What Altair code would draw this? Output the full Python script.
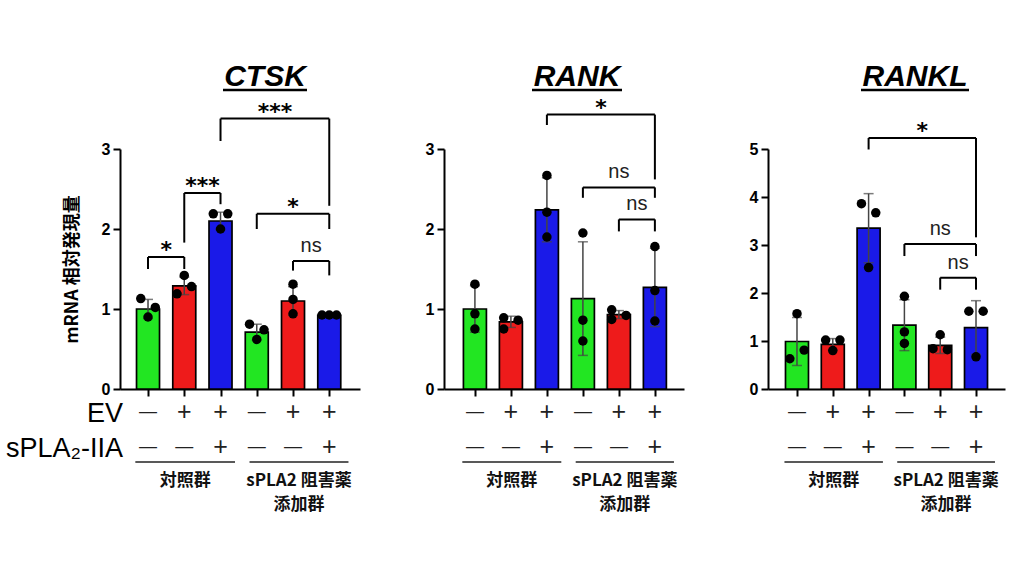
import altair as alt
import pandas as pd

# ---------------- data ----------------
conds = [1, 2, 3, 4, 5, 6]
bar_colors = ["#22e622", "#ee1b1b", "#1a1ae8", "#22e622", "#ee1b1b", "#1a1ae8"]
ev_signs = ["—", "+", "+", "—", "+", "+"]
spla_signs = ["—", "—", "+", "—", "—", "+"]
group_start = [0.65, 3.80]
group_end = [3.40, 6.53]
group_line1 = ["対照群", "sPLA2 阻害薬"]
group_line2 = ["", "添加群"]
row_labels = ["EV", "sPLA₂-IIA"]

ctsk_mean = [1.00, 1.29, 2.10, 0.71, 1.10, 0.92]
ctsk_sd = [0.12, 0.11, 0.11, 0.10, 0.18, 0.01]
ctsk_points = [[1.13, 1.02, 0.90], [1.42, 1.28, 1.19], [2.19, 2.19, 2.00],
               [0.81, 0.74, 0.62], [1.31, 1.12, 0.94], [0.925, 0.925, 0.925]]
ctsk_jitter = [[-1, 1, 0], [0, 1, -1], [-1, 1, 0], [-1, 1, 0], [0, 0, 0], [-1, 0, 1]]
ctsk_brackets = [  # x1, x2, top, left end, right end, label
    (1, 2, 1.65, 1.50, 1.50, "*"),
    (2, 3, 2.45, 1.83, 2.31, "***"),
    (4, 6, 2.19, 2.00, 2.00, "*"),
    (5, 6, 1.60, 1.48, 1.42, "ns"),
    (3, 6, 3.38, 3.10, 2.29, "***"),
]

rank_mean = [1.00, 0.84, 2.24, 1.13, 0.93, 1.27]
rank_sd = [0.29, 0.07, 0.40, 0.71, 0.05, 0.49]
rank_points = [[1.31, 0.94, 0.75], [0.89, 0.86, 0.75], [2.67, 2.21, 1.90],
               [1.95, 0.86, 0.60], [0.99, 0.92, 0.87], [1.78, 1.23, 0.85]]
rank_jitter = [[0, 0, 0], [-1, 1, -1], [0, 0, 0], [0, 0, 0], [-1, 1, -1], [0, 0, 0]]
rank_brackets = [
    (3, 6, 3.43, 3.30, 2.62, "*"),
    (4, 6, 2.52, 2.39, 2.39, "ns"),
    (5, 6, 2.12, 1.97, 1.97, "ns"),
]

rankl_mean = [0.99, 0.93, 3.35, 1.33, 0.91, 1.28]
rankl_sd = [0.50, 0.12, 0.72, 0.53, 0.17, 0.56]
rankl_points = [[1.57, 0.81, 0.63], [1.02, 1.02, 0.80], [3.86, 3.67, 2.53],
                [1.93, 1.19, 0.95], [1.13, 0.84, 0.82], [1.62, 1.62, 0.67]]
rankl_jitter = [[0, 1, -1], [-1, 1, 0], [-1, 1, 0], [0, 0, 0], [0, -1, 1], [-1, 1, 0]]
rankl_brackets = [
    (3, 6, 5.23, 4.99, 3.16, "*"),
    (4, 6, 3.02, 2.77, 2.77, "ns"),
    (5, 6, 2.32, 2.07, 2.07, "ns"),
]

LAT = "Liberation Sans"
CJK = "Noto Sans CJK JP"


def panel(gene, means, sds, points, jitter, brackets, ymax, yvals, xdom,
          width, title_x, title_half, first):
    height = 240
    bars = pd.DataFrame({
        "cond": conds, "mean": means,
        "lo": [m - s for m, s in zip(means, sds)],
        "hi": [m + s for m, s in zip(means, sds)],
        "color": bar_colors, "ev": ev_signs, "spla": spla_signs,
    })
    pts = pd.DataFrame([
        {"x": c + 0.2 * j, "val": v}
        for c, vs, js in zip(conds, points, jitter) for v, j in zip(vs, js)
    ])
    br = pd.DataFrame([
        {"x1": b[0], "x2": b[1], "top": b[2], "lb": b[3], "rb": b[4],
         "label": b[5], "mid": (b[0] + b[1]) / 2}
        for b in brackets
    ])
    grp = pd.DataFrame({"s": group_start, "e": group_end,
                        "l1": group_line1, "l2": group_line2,
                        "m": [(a + b) / 2 for a, b in zip(group_start, group_end)]})
    one = pd.DataFrame({"gene": [gene]})

    xs = alt.Scale(domain=xdom, nice=False, zero=False)
    ys = alt.Scale(domain=[0, ymax], nice=False)
    xax = alt.Axis(values=conds, labels=False, title=None, tickSize=7, tickWidth=2,
                   tickColor="black", domainColor="black", domainWidth=2, grid=False)
    yax = alt.Axis(values=yvals, title="mRNA  相対発現量" if first else None,
                   titleFont=CJK, titleFontSize=18, titleFontWeight="bold",
                   titleColor="black", titlePadding=20,
                   labelFont=LAT, labelFontSize=16, labelFontWeight="bold",
                   labelColor="black", labelPadding=3,
                   tickSize=7, tickWidth=2, tickColor="black",
                   domainColor="black", domainWidth=2, grid=False)

    def X(f):
        return alt.X(f, scale=xs, axis=xax)

    def Y(f):
        return alt.Y(f, scale=ys, axis=yax)

    base_bars = alt.Chart(bars)
    bar_layer = base_bars.mark_bar(size=23, stroke="black", strokeWidth=1.7).encode(
        x=X("cond:Q"), y=Y("mean:Q"), color=alt.Color("color:N", scale=None))
    err = base_bars.mark_rule(color="#444444", strokeWidth=1.5).encode(
        x=X("cond:Q"), y=Y("lo:Q"), y2="hi:Q")
    cap_hi = base_bars.mark_tick(orient="horizontal", size=10, thickness=1.5,
                                 color="#444444").encode(x=X("cond:Q"), y=Y("hi:Q"))
    cap_lo = base_bars.mark_tick(orient="horizontal", size=10, thickness=1.5,
                                 color="#444444").encode(x=X("cond:Q"), y=Y("lo:Q"))
    dots = alt.Chart(pts).mark_circle(size=90, color="black", opacity=1).encode(
        x=X("x:Q"), y=Y("val:Q"))

    bbase = alt.Chart(br)
    b_h = bbase.mark_rule(color="black", strokeWidth=2).encode(
        x=X("x1:Q"), x2="x2:Q", y=Y("top:Q"))
    b_l = bbase.mark_rule(color="black", strokeWidth=2).encode(
        x=X("x1:Q"), y=Y("lb:Q"), y2="top:Q")
    b_r = bbase.mark_rule(color="black", strokeWidth=2).encode(
        x=X("x2:Q"), y=Y("rb:Q"), y2="top:Q")
    stars = bbase.transform_filter("datum.label != 'ns'").mark_text(
        font="DejaVu Sans", fontWeight="bold", fontSize=22, baseline="alphabetic",
        dy=0, color="black").encode(x=X("mid:Q"), y=Y("top:Q"), text="label:N")
    ns = bbase.transform_filter("datum.label == 'ns'").mark_text(
        font=LAT, fontSize=20, baseline="alphabetic", dy=-9,
        color="#222222").encode(x=X("mid:Q"), y=Y("top:Q"), text="label:N")

    def sign_size(f):
        return alt.condition(f"datum.{f} == '+'", alt.value(25), alt.value(18))

    ev_row = base_bars.mark_text(font=LAT, color="#222222", baseline="middle").encode(
        x=X("cond:Q"), y=alt.value(263), text="ev:N", size=sign_size("ev"))
    spla_row = base_bars.mark_text(font=LAT, color="#222222", baseline="middle").encode(
        x=X("cond:Q"), y=alt.value(298), text="spla:N", size=sign_size("spla"))

    gbase = alt.Chart(grp)
    g_line = gbase.mark_rule(color="#222222", strokeWidth=1.6).encode(
        x=X("s:Q"), x2="e:Q", y=alt.value(313))
    g_l1 = gbase.mark_text(font=CJK, fontWeight="bold", fontSize=17,
                           baseline="middle", color="#111111").encode(
        x=X("m:Q"), y=alt.value(332), text="l1:N")
    g_l2 = gbase.mark_text(font=CJK, fontWeight="bold", fontSize=17,
                           baseline="middle", color="#111111").encode(
        x=X("m:Q"), y=alt.value(356), text="l2:N")

    tbase = alt.Chart(one)
    title = tbase.mark_text(font=LAT, fontSize=30, fontWeight="bold",
                            fontStyle="italic", baseline="alphabetic",
                            color="black").encode(
        x=alt.value(title_x), y=alt.value(-63), text="gene:N")
    uline = tbase.mark_rule(color="black", strokeWidth=2.5).encode(
        x=alt.value(title_x - title_half), x2=alt.value(title_x + title_half),
        y=alt.value(-59))

    layers = [bar_layer, err, cap_hi, cap_lo, dots, b_h, b_l, b_r, stars, ns,
              ev_row, spla_row, g_line, g_l1, g_l2, title, uline]
    if first:
        rl = pd.DataFrame({"t": row_labels, "r": [0, 1]})
        rbase = alt.Chart(rl)
        lab_ev = rbase.transform_filter("datum.r == 0").mark_text(
            font=LAT, fontSize=27, align="right", baseline="middle",
            color="black").encode(x=alt.value(3), y=alt.value(265), text="t:N")
        lab_sp = rbase.transform_filter("datum.r == 1").mark_text(
            font=LAT, fontSize=27, align="right", baseline="middle",
            color="black").encode(x=alt.value(3), y=alt.value(300), text="t:N")
        layers += [lab_ev, lab_sp]
    return alt.layer(*layers).properties(width=width, height=height)


p1 = panel("CTSK", ctsk_mean, ctsk_sd, ctsk_points, ctsk_jitter, ctsk_brackets,
           3, [0, 1, 2, 3], [0.365, 6.71], 240, 145, 42, True)
p2 = panel("RANK", rank_mean, rank_sd, rank_points, rank_jitter, rank_brackets,
           3, [0, 1, 2, 3], [0.28, 6.67], 240, 133, 45, False)
p3 = panel("RANKL", rankl_mean, rankl_sd, rankl_points, rankl_jitter, rankl_brackets,
           5, [0, 1, 2, 3, 4, 5], [0.33, 6.67], 237, 147, 54, False)

chart = alt.hconcat(p1, p2, p3, spacing=84, bounds="flush").properties(
    padding={"left": 5, "top": 62, "right": 5, "bottom": 5},
    background="white",
).configure_view(stroke=None)

chart.save("out.html", embed_options={"renderer": "svg", "actions": False})
